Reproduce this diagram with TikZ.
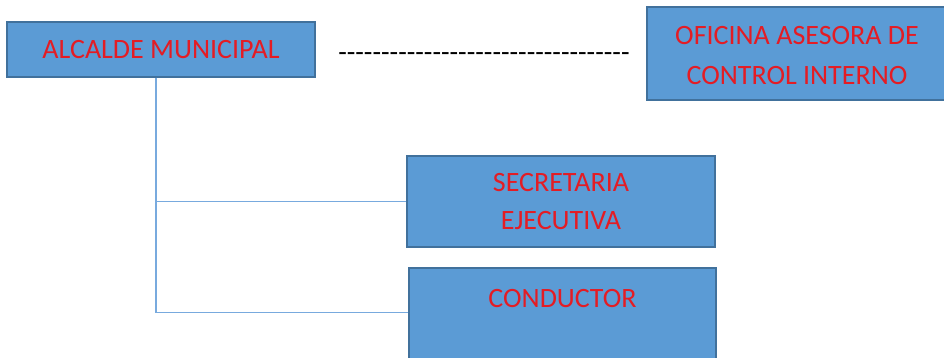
\documentclass[tikz,border=0pt]{standalone}
\usepackage{fontspec}
\setmainfont{Carlito}
\definecolor{boxfill}{RGB}{91,155,213}
\definecolor{boxline}{RGB}{65,113,156}
\definecolor{txtred}{RGB}{228,28,36}
\definecolor{connblue}{RGB}{120,170,222}
\newcommand{\hyph}{-{}}
\begin{document}
\begin{tikzpicture}[x=1pt,y=-1pt,
  box/.style={draw=boxline,fill=boxfill,line width=1.2pt,rectangle,inner sep=0pt,
    text=txtred,font=\fontsize{28}{38}\selectfont,align=center},
  lbl/.style={text=txtred,font=\fontsize{28}{38}\selectfont,inner sep=0pt,align=center},
  conn/.style={draw=connblue,line width=1.7pt}]
\useasboundingbox (0,0) rectangle (944,358);
\node[box,minimum width=308,minimum height=55] (alc) at (161,49.5) {ALCALDE MUNICIPAL};
\node[box,minimum width=300,minimum height=93,font=\fontsize{28}{40}\selectfont] (ofi) at (797,53.5) {};
\node[lbl,font=\fontsize{28}{40}\selectfont] (ofit) at (797,55.5) {OFICINA ASESORA DE\\CONTROL INTERNO};
\node[box,minimum width=308,minimum height=91] (sec) at (561,201.5) {SECRETARIA\\EJECUTIVA};
\node[box,minimum width=307,minimum height=96] (cond) at (562.5,316) {};
\node[lbl,anchor=base] (condt) at (562.5,307) {CONDUCTOR};
\node[font=\fontsize{28}{30}\selectfont,inner sep=0pt] (dash) at (484,57) {\hyph\hyph\hyph\hyph\hyph\hyph\hyph\hyph\hyph\hyph\hyph\hyph\hyph\hyph\hyph\hyph\hyph\hyph\hyph\hyph\hyph\hyph\hyph\hyph\hyph\hyph\hyph\hyph\hyph\hyph\hyph\hyph\hyph\hyph};
\draw[conn] ([xshift=-5pt]alc.south) |- (sec.west);
\draw[conn] ([xshift=-5pt]alc.south) |- ([yshift=-45pt]cond.north west);
\end{tikzpicture}
\end{document}
